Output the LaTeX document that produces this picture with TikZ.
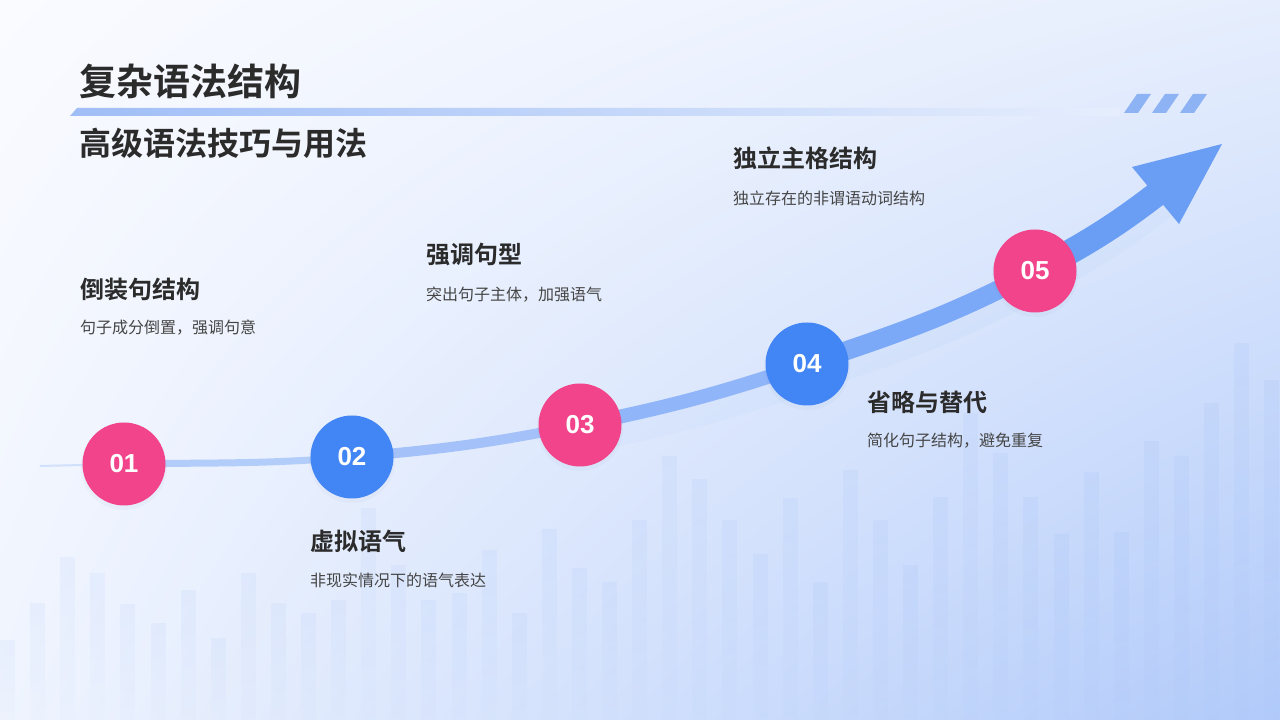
\documentclass[tikz,border=0pt]{standalone}
\usepackage{fontspec}
\setmainfont{Noto Sans CJK SC}[BoldFont={Noto Sans CJK SC Bold}]
\newfontfamily\numfont{Liberation Sans}
\usetikzlibrary{calc,shadings,fadings}
\pgfdeclarelayer{bg}
\pgfdeclarelayer{mid}
\pgfsetlayers{bg,mid,main}
\tikzfading[name=barfade, top color=transparent!0, bottom color=transparent!85]
\definecolor{pinkc}{HTML}{F2448A}
\definecolor{bluec}{HTML}{4285F4}
\definecolor{arrowc}{HTML}{6A9EF5}
\definecolor{titlec}{HTML}{2B2B2B}
\definecolor{descc}{HTML}{454545}
\definecolor{barc}{HTML}{5B8FF0}
\definecolor{bgUL}{HTML}{FAFBFF}
\definecolor{bgUR}{HTML}{E6EEFD}
\definecolor{bgLL}{HTML}{EFF4FE}
\definecolor{bgLR}{HTML}{B1CAFA}
\definecolor{ruleL}{HTML}{A0BEF6}
\definecolor{ruleR}{HTML}{E6EEFD}
\definecolor{stripec}{HTML}{8DB3F5}
\definecolor{cA}{HTML}{B3CDFA}
\definecolor{cB}{HTML}{A4C2F9}
\definecolor{cC}{HTML}{90B5F8}
\definecolor{cD}{HTML}{7CA9F7}
\definecolor{cE}{HTML}{6A9EF5}
\tikzset{
  stepcircle/.style={circle, minimum size=83pt, inner sep=0pt, text=white,
    font=\numfont\bfseries\fontsize{26}{26}\selectfont},
  pinkstep/.style={stepcircle, fill=pinkc},
  bluestep/.style={stepcircle, fill=bluec},
  headtext/.style={anchor=west, inner sep=0pt, text=titlec,
    font=\bfseries\fontsize{24}{28}\selectfont},
  desctext/.style={anchor=west, inner sep=0pt, text=descc,
    font=\fontsize{16}{20}\selectfont},
  seg/.style={line cap=butt},
  bgbar/.style={fill=barc, fill opacity=0.06, path fading=barfade},
  stripe/.style={fill=stripec},
  shadowc/.style={fill=arrowc!60!black, opacity=0.035}
}
\begin{document}
\begin{tikzpicture}[x=1pt,y=1pt]
\useasboundingbox (0,0) rectangle (1280,720);
% circles
\node[pinkstep] (n1) at (124,256) {01};
\node[bluestep] (n2) at (352,263) {02};
\node[pinkstep] (n3) at (580,295) {03};
\node[bluestep] (n4) at (807,356) {04};
\node[pinkstep] (n5) at (1035,449) {05};
\coordinate (start) at (40,254);
\coordinate (tip) at (1222,576);
\coordinate (hl) at (1132,553);
\coordinate (hr) at (1179,496);
\coordinate (base) at (1162,530);
\begin{pgfonlayer}{bg}
  \shade[upper left=bgUL, upper right=bgUR, lower left=bgLL, lower right=bgLR]
    (0,0) rectangle (1280,720);
  \foreach \k/\t in {0/640,1/603,2/557,3/573,4/604,5/623,6/590,7/638,8/573,9/603,
     10/613,11/600,12/508,13/565,14/600,15/593,16/550,17/613,18/529,19/568,
     20/582,21/520,22/456,23/479,24/520,25/554,26/498,27/582,28/470,29/520,
     30/565,31/497,32/413,33/453,34/497,35/534,36/472,37/532,38/441,39/456,
     40/403,41/343,42/380}
    {\fill[bgbar] ({30.1*\k},0) rectangle ++(15,{720-\t});}
  % title rule
  \shade[left color=ruleL, right color=ruleR]
    (70,604) -- (1120,604) -- (1120,612) -- (77,612) -- cycle;
  \foreach \k in {0,1,2}
    {\fill[stripe] ({1124+28*\k},607) -- ({1138+28*\k},607) -- ({1151+28*\k},626) -- ({1137+28*\k},626) -- cycle;}
  % glow under curve
  \draw[line width=34, arrowc, opacity=0.04, line cap=round]
    ($(n3)+(0,-12)$)
    to[out=11.5,in=198.7] ($(n4)+(0,-12)$) to[out=18.7,in=208] ($(n5)+(0,-12)$)
    to[out=28,in=217.8] ($(base)+(0,-12)$);
\end{pgfonlayer}
\begin{pgfonlayer}{mid}
  \draw[seg, line width=2, cA!60] (start) -- (n1.center);
  \draw[seg, line width=7, cA] (n1.center) to[out=1,in=184.8] (n2.center);
  \draw[seg, line width=10, cB] (n2.center) to[out=4.8,in=191.5] (n3.center);
  \draw[seg, line width=14, cC] (n3.center) to[out=11.5,in=198.7] (n4.center);
  \draw[seg, line width=19, cD] (n4.center) to[out=18.7,in=208] (n5.center);
  \draw[seg, line width=25, cE] (n5.center) to[out=28,in=217.8] (base);
  \fill[cE] (tip) -- (hl) -- (hr) -- cycle;
  \foreach \n in {n1,n2,n3,n4,n5}
    {\fill[shadowc] ($(\n)+(0,-3)$) circle (43);}
\end{pgfonlayer}
% titles
\node[anchor=west, inner sep=0pt, text=titlec, font=\bfseries\fontsize{37}{40}\selectfont]
  (title) at (79,639) {复杂语法结构};
\node[anchor=west, inner sep=0pt, text=titlec, font=\bfseries\fontsize{32}{36}\selectfont]
  (subtitle) at (79,577) {高级语法技巧与用法};
% step texts
\node[headtext] (h1) at (80,431) {倒装句结构};
\node[desctext] (d1) at (80,392) {句子成分倒置，强调句意};
\node[headtext] (h2) at (310,179) {虚拟语气};
\node[desctext] (d2) at (310,140) {非现实情况下的语气表达};
\node[headtext] (h3) at (426,465) {强调句型};
\node[desctext] (d3) at (426,425) {突出句子主体，加强语气};
\node[headtext] (h4) at (867,318) {省略与替代};
\node[desctext] (d4) at (867,279) {简化句子结构，避免重复};
\node[headtext] (h5) at (733,562) {独立主格结构};
\node[desctext] (d5) at (733,522) {独立存在的非谓语动词结构};
\end{tikzpicture}
\end{document}
